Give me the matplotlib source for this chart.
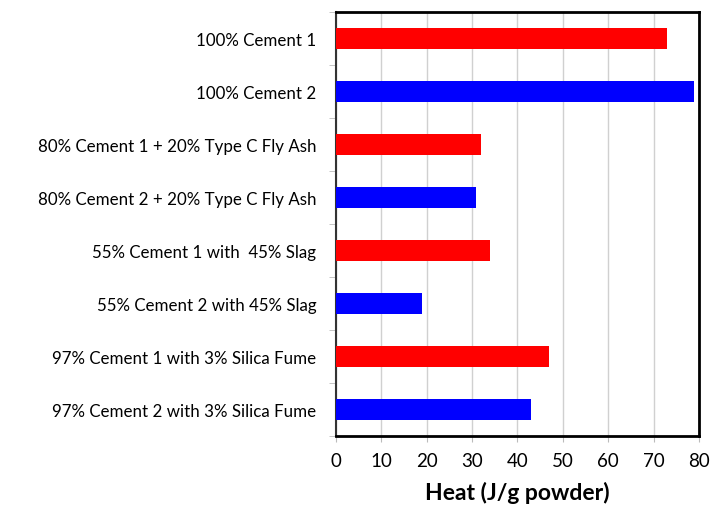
import matplotlib.pyplot as plt
import numpy as np

categories = [
    "100% Cement 1",
    "100% Cement 2",
    "80% Cement 1 + 20% Type C Fly Ash",
    "80% Cement 2 + 20% Type C Fly Ash",
    "55% Cement 1 with  45% Slag",
    "55% Cement 2 with 45% Slag",
    "97% Cement 1 with 3% Silica Fume",
    "97% Cement 2 with 3% Silica Fume",
]
heat = [73, 79, 32, 31, 34, 19, 47, 43]
colors = ["#ff0000", "#0000ff"] * 4

plt.rcParams['font.family'] = ['Lato', 'DejaVu Sans']

fig = plt.figure(figsize=(7.1, 5.1), dpi=100)
ax = fig.add_axes([335.7 / 710, 1 - 436.7 / 510, (699 - 335.7) / 710, (436.7 - 12.7) / 510])

y = np.arange(len(categories))
ax.barh(y, heat, height=0.4, color=colors, zorder=3)

ax.set_xlim(0, 80)
ax.set_ylim(len(categories) - 0.5, -0.5)
ax.set_xticks(range(0, 81, 10))
ax.tick_params(axis='x', labelsize=13.5, length=4, color='#bbbbbb', pad=8)
ax.set_yticks(y)
ax.set_yticklabels(categories, fontsize=12.2)
ax.tick_params(axis='y', which='major', length=0, pad=14)
ax.set_yticks(np.arange(-0.5, len(categories) + 0.5, 1), minor=True)
ax.tick_params(axis='y', which='minor', length=5, color='#bbbbbb')

ax.grid(axis='x', color='#d0d0d0', linewidth=1, zorder=0)
for side in ['top', 'right', 'bottom']:
    ax.spines[side].set_linewidth(2)
    ax.spines[side].set_color('black')
ax.spines['left'].set_linewidth(1.5)
ax.spines['left'].set_color('#333333')

ax.set_xlabel('Heat (J/g powder)', fontsize=16.5, fontweight='bold', labelpad=8)

fig.savefig('out.png', dpi=100)
